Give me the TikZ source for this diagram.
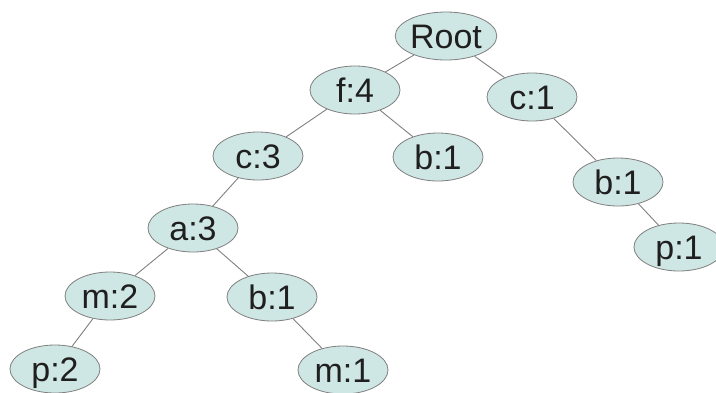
\documentclass[tikz,border=0pt]{standalone}
\usepackage{fontspec}
\setmainfont{Liberation Sans}
\usetikzlibrary{shapes.geometric}
\definecolor{nodefill}{HTML}{CFE7E4}
\definecolor{nodeline}{HTML}{7F7F7F}
\definecolor{edgeline}{HTML}{808080}
\tikzset{
  treenode/.style={ellipse, draw=nodeline, fill=nodefill, line width=0.8pt,
    minimum width=90pt, minimum height=48pt, inner sep=0pt,
    font=\fontsize{34}{40}\selectfont, text=black!88,
    text height=24pt, text depth=0pt},
  branch/.style={draw=edgeline, line width=0.9pt}
}
\begin{document}
\begin{tikzpicture}[x=1pt,y=-1pt]
\useasboundingbox (0,0) rectangle (716,392);
% tree nodes
\node[treenode] (root) at (446,36) {Root};
\node[treenode] (f4)   at (355,90) {f:4};
\node[treenode] (c1)   at (532,97) {c:1};
\node[treenode] (c3)   at (258,156) {c:3};
\node[treenode] (b1a)  at (438,157) {b:1};
\node[treenode] (b1r)  at (618,182) {b:1};
\node[treenode] (p1)   at (679,247) {p:1};
\node[treenode] (a3)   at (193,228) {a:3};
\node[treenode] (m2)   at (110,296) {m:2};
\node[treenode] (b1b)  at (272,297) {b:1};
\node[treenode] (p2)   at (55,369) {p:2};
\node[treenode] (m1)   at (343,370) {m:1};
% parent-child links
\draw[branch] (root) -- (f4);
\draw[branch] (root) -- (c1);
\draw[branch] (f4) -- (c3);
\draw[branch] (f4) -- (b1a);
\draw[branch] (c1) -- (b1r);
\draw[branch] (b1r) -- (p1);
\draw[branch] (c3) -- (a3);
\draw[branch] (a3) -- (m2);
\draw[branch] (a3) -- (b1b);
\draw[branch] (m2) -- (p2);
\draw[branch] (b1b) -- (m1);
\end{tikzpicture}
\end{document}
